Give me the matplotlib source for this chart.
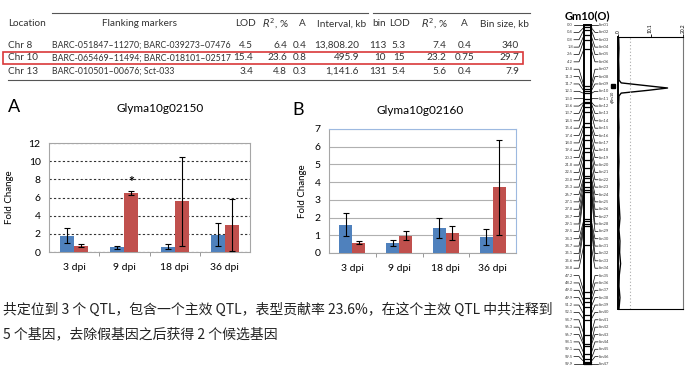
import matplotlib
matplotlib.use('Agg')
import matplotlib.pyplot as plt
import numpy as np

plt.rcParams['font.family'] = ['Lato', 'Noto Sans CJK SC', 'DejaVu Sans']

W, H = 689, 370

# ---- table ----
tbl_header = ['Location', 'Flanking markers', 'LOD', '$R^2$, %', 'A', 'Interval, kb',
              'bin', 'LOD', '$R^2$, %', 'A', 'Bin size, kb']
tbl_rows = [
    ['Chr 8', 'BARC-051847\u201311270; BARC-039273\u201307476', '4.5', '6.4', '0.4', '13,808.20',
     '113', '5.3', '7.4', '0.4', '340'],
    ['Chr 10', 'BARC-065469\u201311494; BARC-018101\u201302517', '15.4', '23.6', '0.8', '495.9',
     '10', '15', '23.2', '0.75', '29.7'],
    ['Chr 13', 'BARC-010501\u201300676; Sct-033', '3.4', '4.8', '0.3', '1,141.6',
     '131', '5.4', '5.6', '0.4', '7.9'],
]

# ---- qPCR bars ----
dpi_labels = ['3 dpi', '9 dpi', '18 dpi', '36 dpi']
a_blue = [1.8, 0.5, 0.6, 1.9]
a_blue_err = [0.8, 0.15, 0.3, 1.25]
a_red = [0.7, 6.5, 5.6, 2.95]
a_red_err = [0.15, 0.25, 4.9, 2.85]
b_blue = [1.6, 0.58, 1.42, 0.9]
b_blue_err = [0.64, 0.18, 0.56, 0.43]
b_red = [0.58, 0.98, 1.15, 3.7]
b_red_err = [0.07, 0.26, 0.4, 2.7]

# ---- linkage map Gm10(O) ----
bin_cm = [0.0, 0.4, 0.8, 1.8, 2.6, 4.2, 10.8, 11.3, 11.7, 12.1, 13.0, 13.6, 13.7, 14.5,
          15.4, 17.4, 18.0, 19.4, 20.3, 21.8, 22.5, 23.8, 25.3, 26.7, 27.1, 27.8, 28.7,
          29.1, 29.5, 34.3, 34.7, 35.1, 35.6, 38.8, 47.2, 48.2, 49.0, 49.9, 51.2, 52.1,
          54.7, 56.3, 56.7, 58.1, 59.1, 59.5, 59.9]
bin_names = ['bin%02d' % (i + 1) for i in range(len(bin_cm))]
lod_pos = [2, 4, 6, 8, 9.6, 10.1, 10.6, 11.0, 11.4, 11.9, 12.4, 14, 16, 18, 20, 22, 24, 26,
           28, 30, 32, 34, 36, 38, 40, 42, 44, 46, 48, 50]
lod_val = [0.2, 0.3, 0.2, 0.3, 0.3, 1.0, 9.0, 15.4, 9.5, 1.0, 0.3, 0.2, 0.2, 0.3, 0.2,
           0.2, 0.3, 0.2, 0.3, 0.2, 0.4, 0.6, 0.3, 0.6, 0.5, 0.8, 0.4, 0.3, 0.6, 0.3]
lod_ticks = ['0', '10.1', '20.2']

note_lines = ['共定位到 3 个 QTL，包含一个主效 QTL，表型贡献率 23.6%，在这个主效 QTL 中共注释到',
              '5 个基因，去除假基因之后获得 2 个候选基因']

BLUE = '#4F81BD'
RED = '#C0504D'

fig = plt.figure(figsize=(6.89, 3.70), dpi=100)

# overlay in pixel coordinates
ov = fig.add_axes([0, 0, 1, 1])
ov.set_xlim(0, W)
ov.set_ylim(H, 0)
ov.axis('off')


def ax_at(l, t, r, b):
    return fig.add_axes([l / W, 1 - b / H, (r - l) / W, (b - t) / H])


# table
col_x = [8, 52, 253, 287, 307, 359, 386, 405, 446, 465, 519]
head_x = [8, 140, 245, 275, 302, 342, 379, 400, 434, 464, 504]
head_ha = ['left', 'center', 'center', 'center', 'center', 'center', 'center', 'center',
           'center', 'center', 'center']
col_ha = ['left', 'left', 'right', 'right', 'right', 'right', 'right', 'right', 'right',
          'center', 'right']
col_fs = [7.2, 6.3, 7.2, 7.2, 7.2, 7.2, 7.2, 7.2, 7.2, 7.2, 7.2]
tc = '#333333'
for x, ha, s in zip(head_x, head_ha, tbl_header):
    ov.text(x, 24, s, ha=ha, va='center', fontsize=7.2, color=tc)
for row, y in zip(tbl_rows, [45, 58, 71]):
    for x, ha, fs, s in zip(col_x, col_ha, col_fs, row):
        ov.text(x, y, s, ha=ha, va='center', fontsize=fs, color=tc)
ov.plot([52, 368], [13, 13], color='#555555', lw=0.8)
ov.plot([373, 530], [13, 13], color='#555555', lw=0.8)
ov.plot([8, 530], [80, 80], color='#555555', lw=0.8)
ov.add_patch(plt.Rectangle((3, 51.5), 520, 12, fill=False, ec='#D9383A', lw=1.2))


def bar_panel(ax, blue, blue_err, red, red_err):
    x = np.arange(len(dpi_labels))
    w = 0.28
    ekw = dict(ecolor='black', elinewidth=0.8, capsize=2, capthick=0.8)
    ax.bar(x - w / 2, blue, w, color=BLUE, yerr=blue_err, error_kw=ekw, zorder=3)
    ax.bar(x + w / 2, red, w, color=RED, yerr=red_err, error_kw=ekw, zorder=3)
    ax.set_xlim(-0.5, len(dpi_labels) - 0.5)
    ax.set_xticks(x)
    ax.set_xticklabels(dpi_labels, fontsize=7.5)
    ax.set_xticks(x[:-1] + 0.5, minor=True)
    ax.tick_params(axis='x', which='major', length=0, pad=8)
    ax.tick_params(axis='x', which='minor', length=3, color='#888888')
    ax.tick_params(axis='y', length=0, labelsize=7.5, pad=6)
    ax.set_ylabel('Fold Change', fontsize=7)


# panel A
axA = ax_at(49, 143, 250, 252)
bar_panel(axA, a_blue, a_blue_err, a_red, a_red_err)
axA.set_ylim(0, 12)
axA.set_yticks(range(0, 13, 2))
axA.yaxis.grid(True, color='#333333', ls=(0, (2, 2)), lw=0.8)
axA.set_axisbelow(True)
for s in axA.spines.values():
    s.set_color('#A6A6A6')
    s.set_linewidth(0.8)
axA.text(1 + 0.14, a_red[1] + a_red_err[1] + 0.35, '*', ha='center', va='bottom',
         fontsize=10, fontweight='bold')
axA.yaxis.set_label_coords(-0.175, 0.5)
ov.text(8, 107, 'A', fontsize=13, va='center')
ov.text(160, 109, 'Glyma10g02150', fontsize=8.5, ha='center', va='center')

# panel B
axB = ax_at(329, 129, 516, 253)
bar_panel(axB, b_blue, b_blue_err, b_red, b_red_err)
axB.set_ylim(0, 7)
axB.set_yticks(range(0, 8))
axB.yaxis.grid(True, color='#B0B0B0', lw=0.8)
axB.set_axisbelow(True)
for k in ['top', 'right']:
    axB.spines[k].set_color('#9DB9E0')
for k in ['left', 'bottom']:
    axB.spines[k].set_color('#A6A6A6')
for s in axB.spines.values():
    s.set_linewidth(0.8)
axB.yaxis.set_label_coords(-0.12, 0.5)
ov.text(292, 110, 'B', fontsize=13, va='center')
ov.text(420, 110, 'Glyma10g02160', fontsize=8.5, ha='center', va='center')

# Chinese note
for s, y in zip(note_lines, [310, 334]):
    ov.text(3, y, s, fontsize=10, va='center', color='#222222',
            family=['Noto Sans CJK SC', 'DejaVu Sans'])

# linkage map
top, bot = 25, 364
cx0, cx1 = 584, 591
span = max(bin_cm)
ov.text(587, 16, 'Gm10(O)', fontsize=8, fontweight='bold', ha='center', va='center')
ov.add_patch(plt.Rectangle((cx0, top), cx1 - cx0, bot - top, fc='white', ec='black', lw=1.4))
n = len(bin_cm)
for i, (cm, name) in enumerate(zip(bin_cm, bin_names)):
    yl = top + i * (bot - top) / (n - 1)
    yc = top + cm / span * (bot - top)
    ov.plot([cx0, cx1], [yc, yc], color='black', lw=0.9)
    ov.plot([574, 579, cx0], [yl, yl, yc], color='black', lw=0.5)
    ov.plot([cx1, 595, 598], [yc, yl, yl], color='black', lw=0.5)
    ov.text(573, yl, '%.1f' % cm, fontsize=3.0, ha='right', va='center', color='#444444')
    ov.text(599, yl, name, fontsize=3.0, ha='left', va='center', color='#444444')

# QTL marker
ov.plot([613], [86], marker='s', ms=2.5, color='black')
ov.text(613, 97, 'qRhs10', fontsize=2.6, rotation=90, ha='center', va='center')

axL = ax_at(618, 37, 683, 309)
axL.plot(lod_val, lod_pos, color='black', lw=1.0)
axL.axvline(3.7, color='#AAAAAA', ls=(0, (1, 2)), lw=0.8)
axL.set_xlim(0, 20.2)
axL.set_ylim(50, 2)
axL.set_yticks([])
axL.xaxis.tick_top()
axL.set_xticks([0, 10.1, 20.2])
axL.set_xticklabels(lod_ticks, rotation=90, fontsize=3.5)
axL.tick_params(axis='x', length=2, width=0.6, pad=1)
axL.spines['left'].set_linewidth(1.4)
for k in ['top', 'right', 'bottom']:
    axL.spines[k].set_linewidth(0.8)
axL.spines['right'].set_color('#777777')

fig.savefig('out.png', dpi=100)
